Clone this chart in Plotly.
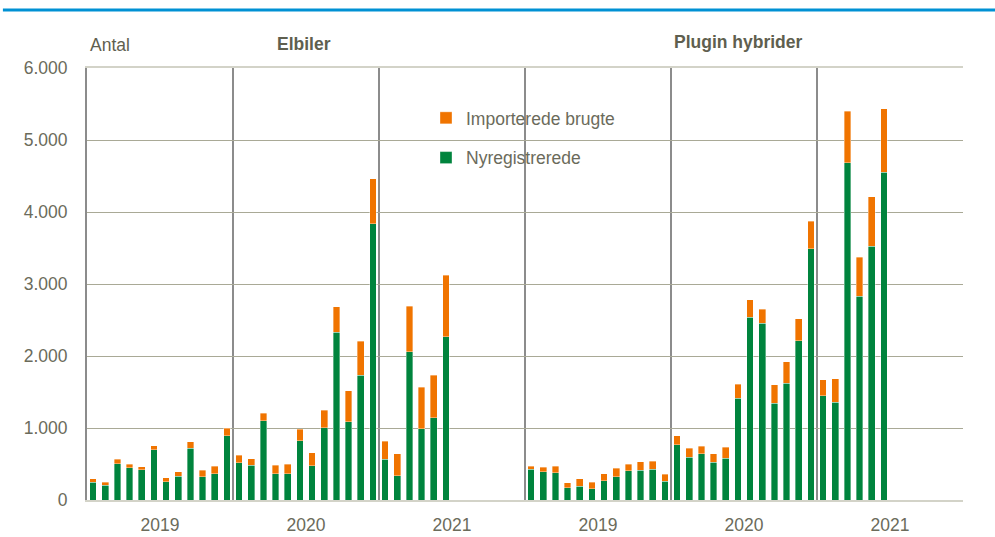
import plotly.graph_objects as go

# ---- data ----
groups = ["Elbiler", "Plugin hybrider"]
years = ["2019", "2020", "2021"]

# Elbiler
ev_2019_ny = [245, 208, 505, 449, 421, 699, 255, 333, 718, 324, 366, 893]
ev_2019_imp = [47, 42, 64, 46, 42, 56, 55, 56, 92, 88, 102, 102]
ev_2020_ny = [520, 481, 1102, 366, 366, 824, 477, 1005, 2333, 1088, 1731, 3838]
ev_2020_imp = [102, 93, 102, 115, 134, 162, 176, 240, 348, 431, 473, 625]
ev_2021_ny = [565, 338, 2056, 991, 1144, 2264]
ev_2021_imp = [254, 305, 638, 574, 592, 856]

# Plugin hybrider
ph_2019_ny = [426, 394, 380, 167, 190, 157, 269, 324, 407, 412, 426, 259]
ph_2019_imp = [46, 60, 88, 74, 102, 93, 97, 116, 93, 116, 111, 102]
ph_2020_ny = [769, 593, 644, 523, 579, 1410, 2537, 2458, 1343, 1620, 2213, 3491]
ph_2020_imp = [120, 125, 106, 116, 152, 196, 241, 190, 259, 297, 301, 384]
ph_2021_ny = [1449, 1356, 4685, 2829, 3523, 4551]
ph_2021_imp = [218, 325, 713, 546, 690, 884]

y_ticks = [0, 1000, 2000, 3000, 4000, 5000, 6000]
y_ticklabels = ["0", "1.000", "2.000", "3.000", "4.000", "5.000", "6.000"]

blocks = [
    (ev_2019_ny, ev_2019_imp, "2019"),
    (ev_2020_ny, ev_2020_imp, "2020"),
    (ev_2021_ny, ev_2021_imp, "2021"),
    (ph_2019_ny, ph_2019_imp, "2019"),
    (ph_2020_ny, ph_2020_imp, "2020"),
    (ph_2021_ny, ph_2021_imp, "2021"),
]
MONTHS = 12

xs, ny_vals, imp_vals = [], [], []
year_pos, year_lab, bounds = [], [], []
for b, (ny, imp, yr) in enumerate(blocks):
    for m, (a, c) in enumerate(zip(ny, imp)):
        xs.append(b * MONTHS + m)
        ny_vals.append(a)
        imp_vals.append(c)
    year_pos.append(b * MONTHS + (MONTHS - 1) / 2)
    year_lab.append(yr)
    bounds.append(b * MONTHS + MONTHS - 0.5)

GREEN = "#00843d"
ORANGE = "#f07400"
TXT = "#6b6b5b"
FONT = "Liberation Sans, Arial, sans-serif"

fig = go.Figure()
fig.add_trace(go.Bar(
    x=xs, y=ny_vals, name="Nyregistrerede", marker_color=GREEN,
    marker_line=dict(color="rgba(255,255,255,0.45)", width=0.8),
    legendgroup="a", legendrank=2,
))
fig.add_trace(go.Bar(
    x=xs, y=imp_vals, name="Importerede brugte", marker_color=ORANGE,
    marker_line=dict(color="rgba(255,255,255,0.45)", width=0.8),
    legendgroup="b", legendrank=1,
))

fig.update_layout(
    barmode="stack",
    bargap=0.45,
    width=995, height=537,
    margin=dict(l=87, r=32, t=68, b=37),
    plot_bgcolor="white", paper_bgcolor="white",
    font=dict(family=FONT, size=17.5, color=TXT),
    showlegend=True,
    legend=dict(
        x=0.387, y=0.926, xanchor="left", yanchor="top",
        bgcolor="rgba(0,0,0,0)", traceorder="grouped",
        tracegroupgap=14, font=dict(size=17.5, color=TXT),
    ),
    xaxis=dict(
        range=[-0.5, len(blocks) * MONTHS - 0.5],
        tickmode="array", tickvals=year_pos, ticktext=year_lab,
        showgrid=False, zeroline=False, automargin=False,
        showline=True, linecolor="#d3d3c8", linewidth=2, mirror=True,
        ticks="", ticklabelstandoff=8, tickfont=dict(size=17.5, color=TXT),
        minor=dict(tickmode="array", tickvals=bounds, showgrid=True,
                   gridcolor="#8c8c8c", gridwidth=2, ticks=""),
    ),
    yaxis=dict(
        range=[0, 6000],
        tickmode="array", tickvals=y_ticks, ticktext=y_ticklabels,
        showgrid=True, gridcolor="#a9a996", gridwidth=1, automargin=False,
        zeroline=False, showline=True, linecolor="#8c8c8c", linewidth=2,
        ticks="", ticklabelstandoff=14,
        tickfont=dict(size=17.5, color=TXT),
    ),
    annotations=[
        dict(text="Antal", x=0.001, y=1.053, xref="paper", yref="paper",
             xanchor="left", yanchor="middle", showarrow=False,
             font=dict(size=17.5, color="#5f5f4f")),
        dict(text="<b>Elbiler</b>", x=0.2477, y=1.0556, xref="paper", yref="paper",
             xanchor="center", yanchor="middle", showarrow=False,
             font=dict(size=17.5, color="#5f5f4f")),
        dict(text="<b>Plugin hybrider</b>", x=0.744, y=1.06, xref="paper", yref="paper",
             xanchor="center", yanchor="middle", showarrow=False,
             font=dict(size=17.5, color="#5f5f4f")),
    ],
    shapes=[
        dict(type="line", xref="paper", yref="paper",
             x0=-0.096, x1=1.037, y0=1.134, y1=1.134,
             line=dict(color="#0091d4", width=3)),
    ],
)

fig.write_html("out.html", config={"displayModeBar": False},
               post_script="document.body.style.margin='0';")
